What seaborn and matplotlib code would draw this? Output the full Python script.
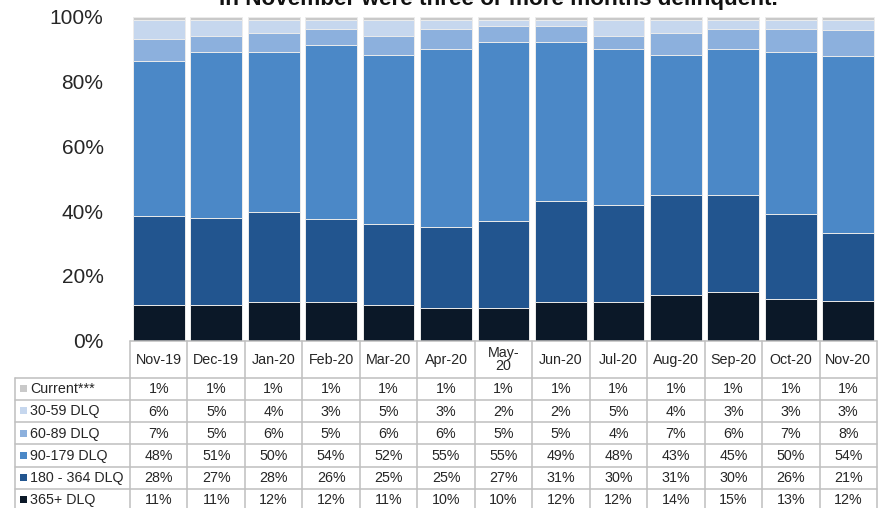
import numpy as np
import pandas as pd
import matplotlib
matplotlib.use("Agg")
import matplotlib.pyplot as plt
import seaborn as sns

# ---- data -------------------------------------------------------------
months = ["Nov-19", "Dec-19", "Jan-20", "Feb-20", "Mar-20", "Apr-20", "May-20",
          "Jun-20", "Jul-20", "Aug-20", "Sep-20", "Oct-20", "Nov-20"]
month_labels = ["Nov-19", "Dec-19", "Jan-20", "Feb-20", "Mar-20", "Apr-20", "May-\n20",
                "Jun-20", "Jul-20", "Aug-20", "Sep-20", "Oct-20", "Nov-20"]

categories = ["Current***", "30-59 DLQ", "60-89 DLQ", "90-179 DLQ",
              "180 - 364 DLQ", "365+ DLQ"]

current = [1, 1, 1, 1, 1, 1, 1, 1, 1, 1, 1, 1, 1]
dlq_30_59 = [6, 5, 4, 3, 5, 3, 2, 2, 5, 4, 3, 3, 3]
dlq_60_89 = [7, 5, 6, 5, 6, 6, 5, 5, 4, 7, 6, 7, 8]
dlq_90_179 = [48, 51, 50, 54, 52, 55, 55, 49, 48, 43, 45, 50, 54]
dlq_180_364 = [28, 27, 28, 26, 25, 25, 27, 31, 30, 31, 30, 26, 21]
dlq_365 = [11, 11, 12, 12, 11, 10, 10, 12, 12, 14, 15, 13, 12]

colors = ["#C9C9C9", "#C6D7EE", "#8CB0DD", "#4B88C7", "#22558F", "#0B1828"]

series = [current, dlq_30_59, dlq_60_89, dlq_90_179, dlq_180_364, dlq_365]

# ---- geometry (pixels) -----------------------------------------------
W, H = 888, 508
AX_L, AX_R = 130.0, 877.0
Y0, Y100 = 340.7, 16.5
TBL_L = 14.5
HDR_BOT = 377.7
ROW_H = 22.2
GRID = "#BFBFBF"
TXT = "#262626"

sns.set_theme(style="white")
plt.rcParams["font.family"] = ["Liberation Sans", "DejaVu Sans"]

fig = plt.figure(figsize=(W / 100, H / 100), dpi=100)
fig.patch.set_facecolor("white")

ax = fig.add_axes([AX_L / W, (H - Y0) / H, (AX_R - AX_L) / W, (Y0 - Y100) / H])

# 100% stacked bars: normalise each month, then overdraw cumulative totals
vals = np.array(series, dtype=float)          # rows: Current ... 365+
shares = vals / vals.sum(axis=0)
stack_order = list(range(len(categories)))[::-1]   # bottom -> top: 365+ ... Current
cum = np.cumsum(shares[stack_order], axis=0)       # cumulative from bottom
# draw tallest first so lower segments sit on top
for k in range(len(stack_order) - 1, -1, -1):
    idx = stack_order[k]
    df = pd.DataFrame({"month": months, "share": cum[k]})
    sns.barplot(data=df, x="month", y="share", order=months, color=colors[idx],
                saturation=1, width=0.9, errorbar=None, edgecolor="#ECECEC",
                linewidth=0.7, ax=ax)

ax.set_xlim(-0.5, len(months) - 0.5)
ax.set_ylim(0, 1)
ax.set_yticks(np.arange(0, 1.01, 0.2))
ax.set_yticklabels([f"{int(round(t * 100))}%" for t in np.arange(0, 1.01, 0.2)],
                   fontsize=15, color=TXT)
ax.tick_params(axis="y", length=0, pad=19)
ax.set_xticks([])
ax.set_xlabel("")
ax.set_ylabel("")
for s in ax.spines.values():
    s.set_visible(False)
ax.patch.set_alpha(0)

# ---- title (top line runs off the canvas) ------------------------------
fig.text(498 / W, (H - 5.5) / H, "In November were three or more months delinquent.",
         ha="center", va="baseline", fontsize=16.2, fontweight="bold", color="#111111")

# ---- data table ---------------------------------------------------------
tax = fig.add_axes([0, 0, 1, 1])
tax.set_xlim(0, W)
tax.set_ylim(H, 0)
tax.axis("off")
tax.patch.set_alpha(0)

ncol = len(months)
col_w = (AX_R - AX_L) / ncol
n_rows = len(categories)
row_tops = [HDR_BOT + i * ROW_H for i in range(n_rows + 1)]
table_bottom = row_tops[-1]

lw = 1.1
# horizontal rules
tax.plot([AX_L, AX_R], [Y0, Y0], color=GRID, lw=lw, clip_on=False)
for y in row_tops:
    tax.plot([TBL_L, AX_R], [y, y], color=GRID, lw=lw, clip_on=False)
# vertical rules
tax.plot([TBL_L, TBL_L], [HDR_BOT, table_bottom], color=GRID, lw=lw, clip_on=False)
for j in range(ncol + 1):
    x = AX_L + j * col_w
    tax.plot([x, x], [Y0, table_bottom], color=GRID, lw=lw, clip_on=False)

# column headers
for j, lab in enumerate(month_labels):
    xc = AX_L + (j + 0.5) * col_w
    tax.text(xc, (Y0 + HDR_BOT) / 2 + 0.5, lab, ha="center", va="center",
             fontsize=10.3, color=TXT, linespacing=0.95)

# row labels with colour keys, and values
for i, (cat, vals_row) in enumerate(zip(categories, series)):
    yc = row_tops[i] + ROW_H / 2
    tax.add_patch(plt.Rectangle((20.3, yc - 3.6), 7, 7, color=colors[i], lw=0))
    tax.text(30, yc + 0.5, cat, ha="left", va="center", fontsize=10.3, color=TXT)
    for j, v in enumerate(vals_row):
        xc = AX_L + (j + 0.5) * col_w
        tax.text(xc, yc + 0.5, f"{v}%", ha="center", va="center",
                 fontsize=10.3, color=TXT)

fig.savefig("out.png", dpi=100, facecolor="white")
